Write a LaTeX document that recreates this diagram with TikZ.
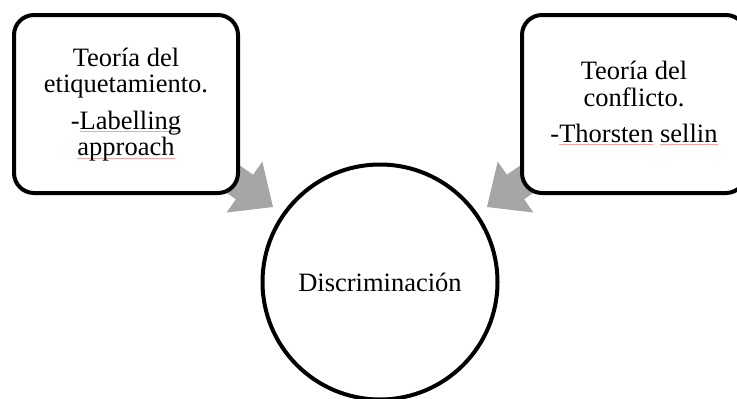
\documentclass[tikz,border=0pt]{standalone}
\usepackage{fontspec}
\setmainfont{Liberation Serif}
\usetikzlibrary{arrows.meta,backgrounds}

\definecolor{arrowgray}{HTML}{A6A6A6}
\definecolor{spellred}{HTML}{F2A8A8}

% Light red spell-check line under a word
\newcommand{\spl}[1]{\setbox0\hbox{#1}\rlap{\textcolor{spellred}{\rule[-3pt]{\wd0}{0.9pt}}}\box0\relax}

% Struts for the first and the last line of a box, so the text sits as in the picture
\newcommand{\topstrut}{\rule{0pt}{20pt}}
\newcommand{\botstrut}{\rule[-6pt]{0pt}{6pt}}

\begin{document}
\begin{tikzpicture}[x=1pt,y=-1pt,
    theorybox/.style={draw, line width=4pt, rounded corners=20pt, fill=white,
      minimum width=224pt, minimum height=178pt, inner sep=0pt,
      align=center, font=\fontsize{26.5}{26.6}\selectfont},
    centredisc/.style={draw, circle, line width=4pt, fill=white,
      minimum size=235pt, inner sep=0pt, font=\fontsize{26.5}{26.6}\selectfont},
    blockarrow/.style={arrowgray, line width=30pt,
      -{Triangle[length=35pt,width=60pt]}, shorten >=11pt}]

    % Fix the page to the size of the picture
    \useasboundingbox (0,0) rectangle (737,399);

    % Half the distance between the two box centres
    \pgfmathsetmacro{\halfgap}{254}

    % The two theory boxes
    \node[theorybox] (labelling) at (380-\halfgap,104)
      {\topstrut Teoría del\\etiquetamiento.\\[9.5pt]-\spl{Labelling}\\\spl{approach}\botstrut};
    \node[theorybox] (conflict) at (380+\halfgap,104)
      {\topstrut Teoría del\\conflicto.\\[9.5pt]-\spl{Thorsten} \spl{sellin}\botstrut};

    % The circle in the middle
    \node[centredisc] (discr) at (380,282) {Discriminación};

    % Gray arrows, drawn under the boxes
    \begin{scope}[on background layer]
      \draw[blockarrow] (labelling.center) -- (discr);
      \draw[blockarrow] (conflict.center) -- (discr);
    \end{scope}

\end{tikzpicture}
\end{document}
